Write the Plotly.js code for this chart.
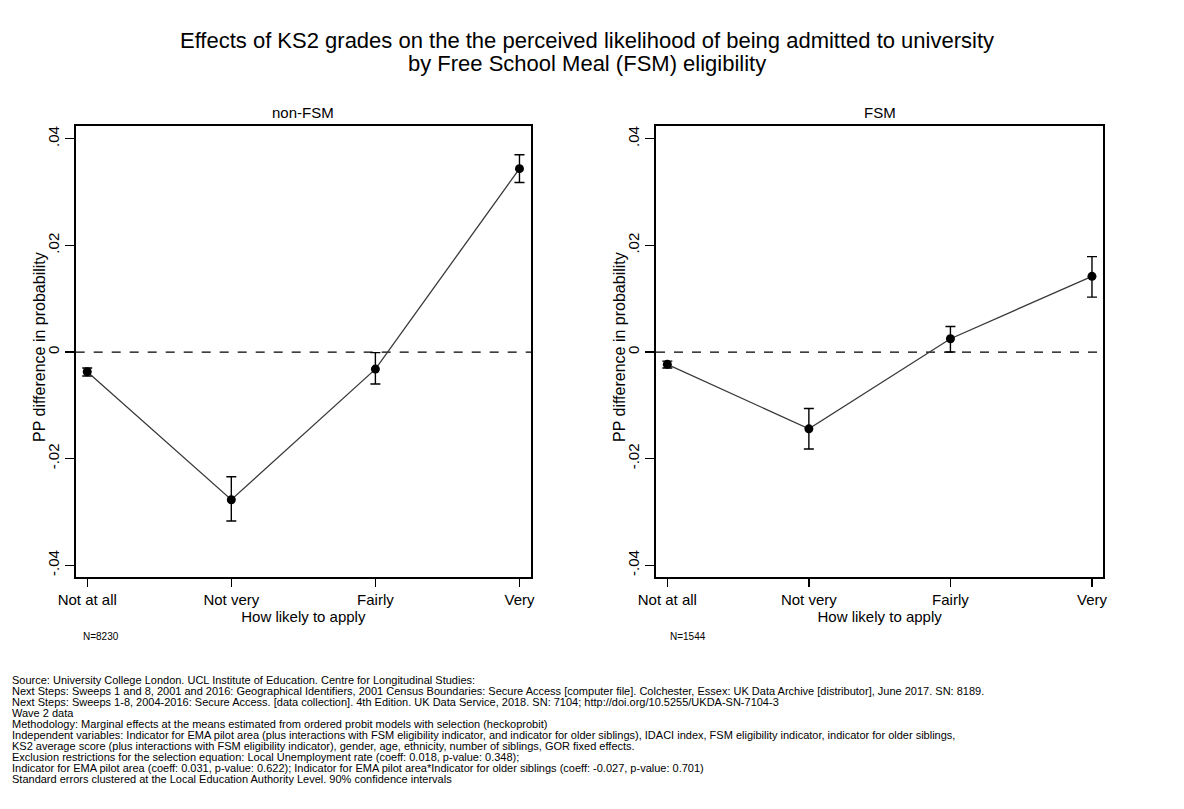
<!DOCTYPE html>
<html><head><meta charset="utf-8">
<script src="https://cdn.plot.ly/plotly-3.0.1.min.js"></script>
<style>html,body{margin:0;padding:0;background:#fff}#chart{width:1184px;height:809px}</style>
</head><body><div id="chart"></div><script>
const categories = ["Not at all", "Not very", "Fairly", "Very"];
const nonFsmEffect = [-0.0037, -0.0277, -0.0032, 0.0344];
const nonFsmUpper  = [-0.0030, -0.0234, -0.0001, 0.0370];
const nonFsmLower  = [-0.0045, -0.0317, -0.0060, 0.0318];
const fsmEffect = [-0.0023, -0.0144, 0.0025, 0.0142];
const fsmUpper  = [-0.0017, -0.0106, 0.0048, 0.0179];
const fsmLower  = [-0.0030, -0.0182, 0.0000, 0.0103];
const yTickVals = [-0.04, -0.02, 0, 0.02, 0.04];
const yTickText = ["-.04", "-.02", "0", ".02", ".04"];
const panelTitles = ["non-FSM", "FSM"];
const sampleSizes = ["N=8230", "N=1544"];
const titleLines = [
  "Effects of KS2 grades on the the perceived likelihood of being admitted to university",
  "by Free School Meal (FSM) eligibility"
];
const xTitle = "How likely to apply";
const yTitle = "PP difference in probability";
const footnoteLines = [
  "Source: University College London. UCL Institute of Education. Centre for Longitudinal Studies:",
  "Next Steps: Sweeps 1 and 8, 2001 and 2016: Geographical Identifiers, 2001 Census Boundaries: Secure Access [computer file]. Colchester, Essex: UK Data Archive [distributor], June 2017. SN: 8189.",
  "Next Steps: Sweeps 1-8, 2004-2016: Secure Access. [data collection]. 4th Edition. UK Data Service, 2018. SN: 7104; http://doi.org/10.5255/UKDA-SN-7104-3",
  "Wave 2 data",
  "Methodology: Marginal effects at the means estimated from ordered probit models with selection (heckoprobit)",
  "Independent variables: Indicator for EMA pilot area (plus interactions with FSM eligibility indicator, and indicator for older siblings), IDACI index, FSM eligibility indicator, indicator for older siblings,",
  "KS2 average score (plus interactions with FSM eligibility indicator), gender, age, ethnicity, number of siblings, GOR fixed effects.",
  "Exclusion restrictions for the selection equation: Local Unemployment rate (coeff: 0.018, p-value: 0.348);",
  "Indicator for EMA pilot area (coeff: 0.031, p-value: 0.622); Indicator for EMA pilot area*Indicator for older siblings (coeff: -0.027, p-value: 0.701)",
  "Standard errors clustered at the Local Education Authority Level. 90% confidence intervals"
];

const W = 1184, H = 809;
const FONT = "Liberation Sans, Arial, sans-serif";

function mkTrace(eff, up, lo, xa, ya) {
  return {
    type: "scatter", mode: "lines+markers", x: categories, y: eff,
    xaxis: xa, yaxis: ya,
    line: {color: "#3a3a3a", width: 1.3},
    marker: {color: "#000", size: 9},
    error_y: {type: "data", symmetric: false,
      array: up.map((u, i) => u - eff[i]),
      arrayminus: lo.map((l, i) => eff[i] - l),
      color: "#000", thickness: 1.4, width: 5},
    showlegend: false, hoverinfo: "skip"
  };
}

const data = [
  mkTrace(nonFsmEffect, nonFsmUpper, nonFsmLower, "x", "y"),
  mkTrace(fsmEffect, fsmUpper, fsmLower, "x2", "y2")
];

const yDom = [1 - 577 / H, 1 - 125.5 / H];
const xDom1 = [75.7 / W, 531 / W];
const xDom2 = [656 / W, 1103.3 / W];

function xAxis(dom, anchor) {
  return {
    domain: dom, anchor: anchor, type: "category", range: [-0.08, 3.08],
    showline: true, mirror: true, linecolor: "#000", linewidth: 1.6,
    ticks: "outside", ticklen: 8, tickwidth: 1.3, tickcolor: "#000",
    tickfont: {family: FONT, size: 15, color: "#000"},
    showgrid: false, zeroline: false,
    title: {text: xTitle, font: {family: FONT, size: 15, color: "#000"}, standoff: 2}
  };
}
function yAxis(anchor) {
  return {
    domain: yDom, anchor: anchor, range: [-0.0422, 0.0425],
    tickvals: yTickVals, ticktext: yTickText, tickangle: -90,
    showline: true, mirror: true, linecolor: "#000", linewidth: 1.6,
    ticks: "outside", ticklen: 9, tickwidth: 1.3, tickcolor: "#000",
    tickfont: {family: FONT, size: 15, color: "#000"},
    showgrid: false, zeroline: false,
    title: {text: ""}
  };
}

const annotations = [];
annotations.push({xref: "paper", yref: "paper", x: 587 / W, y: 1 - 63 / H,
  xanchor: "center", yanchor: "middle", showarrow: false, text: titleLines[1],
  font: {family: FONT, size: 22, color: "#000"}});
[xDom1, xDom2].forEach((d, i) => {
  annotations.push({xref: "paper", yref: "paper", x: (d[0] + d[1]) / 2, y: 1 - 112 / H,
    xanchor: "center", yanchor: "middle", showarrow: false, text: panelTitles[i],
    font: {family: FONT, size: 15, color: "#000"}});
});
[39, 619].forEach(px => {
  annotations.push({xref: "paper", yref: "paper", x: px / W, y: 1 - 347 / H,
    xanchor: "center", yanchor: "middle", showarrow: false, text: yTitle, textangle: -90,
    font: {family: FONT, size: 16, color: "#000"}});
});
[81, 668].forEach((px, i) => {
  annotations.push({xref: "paper", yref: "paper", x: px / W, y: 1 - 636 / H,
    xanchor: "left", yanchor: "middle", showarrow: false, text: sampleSizes[i],
    font: {family: FONT, size: 10, color: "#000"}});
});
footnoteLines.forEach((t, i) => {
  annotations.push({xref: "paper", yref: "paper", x: 10 / W, y: 1 - (680 + i * 11) / H,
    xanchor: "left", yanchor: "middle", showarrow: false, text: t,
    font: {family: FONT, size: 11, color: "#000"}});
});

const shapes = ["x", "x2"].map((xa, i) => ({
  type: "line", xref: xa + " domain", yref: i === 0 ? "y" : "y2",
  x0: 0, x1: 1, y0: 0, y1: 0, line: {color: "#000", width: 1.3, dash: "dash"}, layer: "below"
}));

const layout = {
  width: W, height: H, paper_bgcolor: "#fff", plot_bgcolor: "#fff",
  margin: {l: 0, r: 0, t: 0, b: 0}, showlegend: false,
  font: {family: FONT, color: "#000"},
  title: {text: titleLines[0], font: {family: FONT, size: 22, color: "#000"},
    x: 587 / W, xanchor: "center", y: 1 - 40 / H, yanchor: "middle", yref: "container"},
  xaxis: xAxis(xDom1, "y"), yaxis: yAxis("x"),
  xaxis2: xAxis(xDom2, "y2"), yaxis2: yAxis("x2"),
  annotations: annotations, shapes: shapes
};

Plotly.newPlot("chart", data, layout, {displayModeBar: false, staticPlot: true});
</script></body></html>
